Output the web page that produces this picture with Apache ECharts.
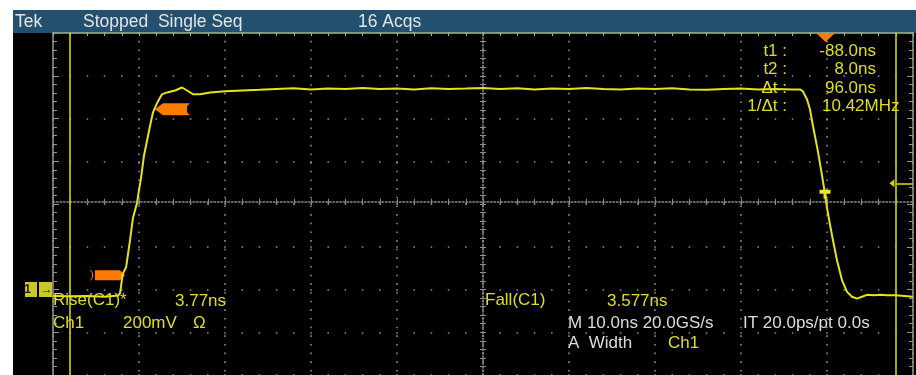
<!DOCTYPE html>
<html><head><meta charset="utf-8">
<script src="https://cdn.jsdelivr.net/npm/echarts@6/dist/echarts.min.js"></script>
<style>
html,body{margin:0;padding:0;background:#fff;}
#wrap{position:relative;width:916px;height:375px;overflow:hidden;}
#hdr{position:absolute;left:13px;top:10px;width:903px;height:23px;background:#23506e;}
#scr{position:absolute;left:13px;top:33px;width:903px;height:342px;background:#000;}
#chart{position:absolute;left:0;top:0;width:916px;height:375px;}
</style></head><body>
<div id="wrap"><div id="hdr"></div><div id="scr"></div><div id="chart"></div></div>
<script>
// ---- axis ranges (ns, mV) ----
const xRangeNs = [-90, 10];
const xStepNs = 10;
const yRangeMv = [-400, 1200];
const yStepMv = 200;

// ---- waveform (Ch1) ----
const riseTimeNs = [-90, -88, -86, -84, -83, -82.4, -82.2, -82.1, -81.9, -81.5, -81.05, -80.7, -80.23, -80.0, -79.77, -79.42, -78.72, -78.37, -77.91, -77.33, -76.74, -75.8, -75.0, -74.4, -73.7, -72.9, -71.7];
const riseMv     = [-30, -32, -30, -34, -30, -28, -16, 12, 72, 104, 229, 335, 405, 465, 520, 626, 765, 829, 871, 913, 922, 931, 945, 931, 913, 913, 922];
const topTimeNs  = [-70, -68, -66, -64, -62, -60, -58, -56, -54, -52, -50, -48, -46, -44, -42, -40, -38, -36, -34, -32, -30, -28, -26, -24, -22, -20, -18, -16, -14, -12, -10, -8, -6, -4];
const topMv      = [927, 931, 934, 938, 941, 936, 940, 938, 943, 938, 940, 936, 941, 938, 940, 943, 938, 941, 936, 940, 938, 943, 938, 936, 940, 938, 941, 936, 934, 938, 940, 936, 938, 936];
const fallTimeNs = [-3.1, -2.8, -2.33, -1.98, -1.63, -1.05, -0.58, -0.23, 0, 0.35, 0.7, 1.16, 1.74, 2.33, 2.91, 3.49, 4.07, 4.65, 5.5, 6.2, 7, 8, 9, 10];
const fallMv     = [936, 927, 890, 843, 765, 645, 534, 446, 382, 303, 229, 137, 44, -11, -34, -43, -34, -25, -27, -25, -27, -27, -30, -34];

// ---- markers ----
const cursorNs = [-88, 8];
const triggerLevelMv = 497;
const triggerTimeNs = -0.17;
const riseHighRef = [-78.14, 843];
const riseLowRef = [-81.63, 67];
const fallMidRef = [-0.23, 446];

// ---- texts ----
const headerTexts = ['Tek', 'Stopped  Single Seq', '16 Acqs'];
const cursorLabels = ['t1 :', 't2 :', '\u0394t :', '1/\u0394t :'];
const cursorValues = ['-88.0ns', '8.0ns', '96.0ns', '10.42MHz'];
const measureTexts = ['Rise(C1)*', '3.77ns', 'Fall(C1)', '3.577ns'];
const chanTexts = ['Ch1', '200mV', '\u03A9'];
const acqTexts = ['M 10.0ns 20.0GS/s', 'IT 20.0ps/pt 0.0s', 'A  Width', 'Ch1'];

const timeNs = riseTimeNs.concat(topTimeNs, fallTimeNs);
const voltMv = riseMv.concat(topMv, fallMv);
const wave = timeNs.map((t, i) => [t, voltMv[i]]);

const GRID = {left: 53, top: 33, width: 860, height: 346.4};
const DX = GRID.width / 10, DY = GRID.height / 8;
const DOT = '#8c8c8c', YEL = '#e4e41a', TXT = '#dede1e', WHT = '#dcdcdc', ORG = '#ff7a00';
const FONT = '17px "Liberation Sans", Arial, sans-serif';
const HFONT = '17.5px "Liberation Sans", Arial, sans-serif';

function baseX(extra) {
  return Object.assign({type: 'value', min: xRangeNs[0], max: xRangeNs[1], interval: xStepNs,
    axisLabel: {show: false}, splitLine: {show: false}, axisTick: {show: false},
    axisLine: {show: false, onZero: false}}, extra);
}
function baseY(extra) {
  return Object.assign({type: 'value', min: yRangeMv[0], max: yRangeMv[1], interval: yStepMv,
    axisLabel: {show: false}, splitLine: {show: false}, axisTick: {show: false},
    axisLine: {show: false, onZero: false}}, extra);
}

const chart = echarts.init(document.getElementById('chart'), null, {renderer: 'canvas', width: 916, height: 375});

function txt(s, x, y, color, align, font) {
  return {type: 'text', z: 50, style: {text: s, x: x, y: y, fill: color, font: font || FONT,
    textAlign: align || 'left', textVerticalAlign: 'middle'}};
}

const graphics = [
  txt(headerTexts[0], 15, 22.5, '#e2e4e6', 'left', HFONT),
  txt(headerTexts[1], 83, 22.5, '#e2e4e6', 'left', HFONT),
  txt(headerTexts[2], 358, 22.5, '#e2e4e6', 'left', HFONT),
  txt(cursorLabels[0], 787, 51, TXT, 'right'),
  txt(cursorLabels[1], 787, 69, TXT, 'right'),
  txt(cursorLabels[2], 787, 88, TXT, 'right'),
  txt(cursorLabels[3], 787, 106.5, TXT, 'right'),
  txt(cursorValues[0], 876, 51, TXT, 'right'),
  txt(cursorValues[1], 876, 69, TXT, 'right'),
  txt(cursorValues[2], 876, 88, TXT, 'right'),
  txt(cursorValues[3], 822, 106.5, TXT),
  txt(measureTexts[0], 53, 300.5, TXT),
  txt(measureTexts[1], 175, 301, TXT),
  txt(measureTexts[2], 485, 300.5, TXT),
  txt(measureTexts[3], 607, 301.5, TXT),
  txt(chanTexts[0], 53, 323.5, TXT),
  txt(chanTexts[1], 123, 323.5, TXT),
  txt(chanTexts[2], 193, 323.5, TXT),
  txt(acqTexts[0], 568, 323.5, WHT),
  txt(acqTexts[1], 743, 323.5, WHT),
  txt(acqTexts[2], 568, 343.5, WHT),
  txt(acqTexts[3], 668, 343.5, TXT)
];

const option = {
  animation: false,
  grid: GRID,
  xAxis: [
    baseX({splitLine: {show: true, lineStyle: {color: DOT, width: 1.6, type: [1.6, DY / 5 - 1.6], dashOffset: 0.8}}}),
    baseX({position: 'top', axisLine: {show: true, onZero: false, lineStyle: {color: '#9cb88e', width: 1.5}},
      axisTick: {show: true, inside: true, length: 3, lineStyle: {color: '#b4ac7c'}},
      minorTick: {show: true, splitNumber: 5, length: 3, lineStyle: {color: '#b4ac7c'}}}),
    baseX({position: 'bottom', offset: -GRID.height / 2,
      axisLine: {show: true, onZero: false, lineStyle: {color: DOT, width: 1.5, type: [1.5, 2]}},
      axisTick: {show: true, inside: true, length: 3, lineStyle: {color: DOT}},
      minorTick: {show: true, splitNumber: 5, length: 3, lineStyle: {color: DOT}}}),
    baseX({position: 'bottom', offset: -GRID.height / 2,
      axisTick: {show: true, inside: false, length: 3, lineStyle: {color: DOT}},
      minorTick: {show: true, splitNumber: 5, length: 3, lineStyle: {color: DOT}}})
  ],
  yAxis: [
    baseY({splitLine: {show: true, lineStyle: {color: DOT, width: 1.6, type: [1.6, DX / 5 - 1.6], dashOffset: 0.8}}}),
    baseY({position: 'left', axisLine: {show: true, onZero: false, lineStyle: {color: '#96968c', width: 1.5}},
      axisTick: {show: true, inside: true, length: 6, lineStyle: {color: '#96968c'}},
      minorTick: {show: true, splitNumber: 5, length: 4, lineStyle: {color: '#96968c'}}}),
    baseY({position: 'right', axisLine: {show: true, onZero: false, lineStyle: {color: '#96968c', width: 1.5}},
      axisTick: {show: true, inside: true, length: 6, lineStyle: {color: '#96968c'}},
      minorTick: {show: true, splitNumber: 5, length: 4, lineStyle: {color: '#96968c'}}}),
    baseY({position: 'left', offset: -GRID.width / 2,
      axisLine: {show: true, onZero: false, lineStyle: {color: DOT, width: 1.5, type: [1.5, 2]}},
      axisTick: {show: true, inside: true, length: 3, lineStyle: {color: DOT}},
      minorTick: {show: true, splitNumber: 5, length: 3, lineStyle: {color: DOT}}}),
    baseY({position: 'left', offset: -GRID.width / 2,
      axisTick: {show: true, inside: false, length: 3, lineStyle: {color: DOT}},
      minorTick: {show: true, splitNumber: 5, length: 3, lineStyle: {color: DOT}}})
  ],
  series: [{
    type: 'line', xAxisIndex: 0, yAxisIndex: 0, data: wave, symbol: 'none', z: 5,
    lineStyle: {color: YEL, width: 2},
    markLine: {
      silent: true, symbol: ['none', 'none'], label: {show: false}, animation: false,
      lineStyle: {color: '#d2d200', width: 1.6, type: 'solid'},
      data: [
        {xAxis: cursorNs[0]},
        {xAxis: cursorNs[1]},
        [{coord: [cursorNs[1] + 0.1, triggerLevelMv]}, {coord: [xRangeNs[1], triggerLevelMv]}]
      ]
    },
    markPoint: {
      silent: true, animation: false, label: {show: false},
      data: [
        {coord: [triggerTimeNs, yRangeMv[1]], symbol: 'path://M0,0 L20,0 L10,10 Z', symbolSize: [19, 9],
          symbolOffset: [0, 4.5], itemStyle: {color: ORG}},
        {coord: riseHighRef, symbol: 'path://M0,6 L8,0 L35,0 L32,3 L32,9 L35,12 L8,12 Z', symbolSize: [35, 12],
          symbolOffset: [17.5, 0], itemStyle: {color: ORG}},
        {coord: riseLowRef, symbol: 'path://M0,0 L1,0 L3,3 L3,7 L1,10 L0,10 L2,7 L2,3 Z M5,0 L30,0 L35,5 L30,10 L5,10 Z',
          symbolSize: [35, 10], symbolOffset: [-17.5, 0], itemStyle: {color: ORG}},
        {coord: fallMidRef, symbol: 'path://M0,0 L11,0 L11,4 L7,4 L7,9 L4,9 L4,4 L0,4 Z', symbolSize: [11, 9],
          itemStyle: {color: '#e8e830'}},
        {coord: [cursorNs[1] - 0.45, triggerLevelMv], symbol: 'path://M0,4 L5,0 L5,8 Z', symbolSize: [5, 8],
          itemStyle: {color: '#d2d200'}},
        {coord: [xRangeNs[0], 0], symbol: 'path://M0,0 L12,0 L12,15 L0,15 Z M14,0 L27,0 L27,15 L14,15 Z',
          symbolSize: [27, 15], symbolOffset: [-14.5, 0], itemStyle: {color: '#c9c92a'},
          label: {show: true, position: 'inside', formatter: '1   \u2192', color: '#1e1e00', fontSize: 12, fontWeight: 'bold'}}
      ]
    }
  }],
  graphic: graphics
};
chart.setOption(option);
</script></body></html>
